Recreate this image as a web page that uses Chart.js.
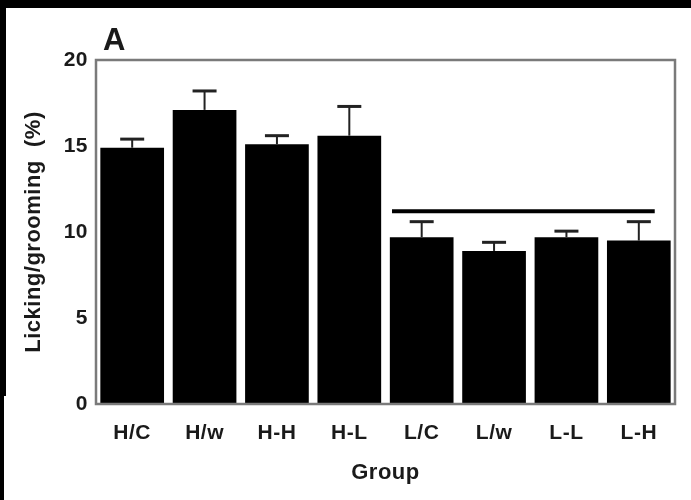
<!DOCTYPE html>
<html>
<head>
<meta charset="utf-8">
<script src="https://cdn.jsdelivr.net/npm/chart.js@4.4.1/dist/chart.umd.min.js"></script>
<style>
  html, body { margin: 0; padding: 0; background: #fff; }
  #wrap { position: relative; width: 691px; height: 500px; }
  #scan-top { position: absolute; left: 0; top: 0; width: 691px; height: 8px; background: #000; }
  #scan-left { position: absolute; left: 0; top: 0; width: 6px; height: 396px; background: #000; }
  #scan-left2 { position: absolute; left: 0; top: 396px; width: 4px; height: 104px; background: #000; }
</style>
</head>
<body>
<div id="wrap">
  <canvas id="chart" width="691" height="500"></canvas>
  <div id="scan-top"></div>
  <div id="scan-left"></div>
  <div id="scan-left2"></div>
</div>
<script>
const GROUPS = ['H/C', 'H/w', 'H-H', 'H-L', 'L/C', 'L/w', 'L-L', 'L-H'];
const LICKING = [14.9, 17.1, 15.1, 15.6, 9.7, 8.9, 9.7, 9.5];
const ERRORS = [0.5, 1.1, 0.5, 1.7, 0.9, 0.5, 0.35, 1.1];
const Y_TICKS = [0, 5, 10, 15, 20];
// significance bar over the L groups (category positions, level in %)
const SIG_FROM = 3.59;
const SIG_TO = 7.22;
const SIG_LEVEL = 11.2;

const FONT = '"Liberation Sans", Arial, sans-serif';
const INK = '#1a1a1a';

const spacingPlugin = {
  id: 'spacing',
  beforeLayout(chart) { chart.ctx.letterSpacing = '0.5px'; },
  beforeDraw(chart) { chart.ctx.letterSpacing = '0.5px'; }
};

const framePlugin = {
  id: 'frame',
  afterDatasetsDraw(chart) {
    const { ctx, chartArea: a, scales } = chart;
    const x = scales.x;
    const y = scales.y;
    ctx.save();

    // error bars (upper half only)
    ctx.strokeStyle = '#222';
    const meta = chart.getDatasetMeta(0);
    LICKING.forEach((v, i) => {
      const cx = meta.data[i].x;
      const top = y.getPixelForValue(v + ERRORS[i]);
      const base = y.getPixelForValue(v);
      ctx.lineWidth = 2;
      ctx.beginPath();
      ctx.moveTo(cx, base);
      ctx.lineTo(cx, top);
      ctx.stroke();
      ctx.lineWidth = 3;
      ctx.beginPath();
      ctx.moveTo(cx - 12, top);
      ctx.lineTo(cx + 12, top);
      ctx.stroke();
    });

    // significance line
    ctx.strokeStyle = '#000';
    ctx.lineWidth = 4;
    ctx.beginPath();
    ctx.moveTo(x.getPixelForValue(SIG_FROM), y.getPixelForValue(SIG_LEVEL));
    ctx.lineTo(x.getPixelForValue(SIG_TO), y.getPixelForValue(SIG_LEVEL));
    ctx.stroke();

    // plot box
    ctx.strokeStyle = '#7a7a7a';
    ctx.lineWidth = 2.5;
    ctx.strokeRect(a.left, a.top, a.right - a.left, a.bottom - a.top);

    // panel letter
    ctx.fillStyle = INK;
    ctx.font = 'bold 31px ' + FONT;
    ctx.textBaseline = 'alphabetic';
    ctx.textAlign = 'left';
    ctx.fillText('A', a.left + 7, a.top - 10);
    ctx.restore();
  }
};

new Chart(document.getElementById('chart').getContext('2d'), {
  type: 'bar',
  data: {
    labels: GROUPS,
    datasets: [{
      data: LICKING,
      backgroundColor: '#000',
      borderWidth: 0,
      barPercentage: 0.88,
      categoryPercentage: 1.0
    }]
  },
  options: {
    responsive: false,
    animation: false,
    layout: { padding: { left: 6, right: 16, top: 60, bottom: 0 } },
    plugins: {
      legend: { display: false },
      tooltip: { enabled: false }
    },
    scales: {
      x: {
        grid: { display: false, drawTicks: false },
        border: { display: false },
        ticks: { color: INK, padding: 17, font: { family: FONT, size: 21, weight: 'bold' } },
        title: {
          display: true,
          text: 'Group',
          color: INK,
          padding: { top: 4, bottom: 14 },
          font: { family: FONT, size: 22, weight: 'bold' }
        },
        afterFit: (scale) => { scale.height = 96; }
      },
      y: {
        min: 0,
        max: 20,
        afterBuildTicks: (scale) => { scale.ticks = Y_TICKS.map((v) => ({ value: v })); },
        grid: { display: false, drawTicks: false },
        border: { display: false },
        ticks: { color: INK, padding: 8, font: { family: FONT, size: 21, weight: 'bold' } },
        title: {
          display: true,
          text: 'Licking/grooming  (%)',
          color: INK,
          padding: { top: 15, bottom: 0 },
          font: { family: FONT, size: 22, weight: 'bold' }
        },
        afterFit: (scale) => { scale.width = 90; }
      }
    }
  },
  plugins: [spacingPlugin, framePlugin]
});
</script>
</body>
</html>
